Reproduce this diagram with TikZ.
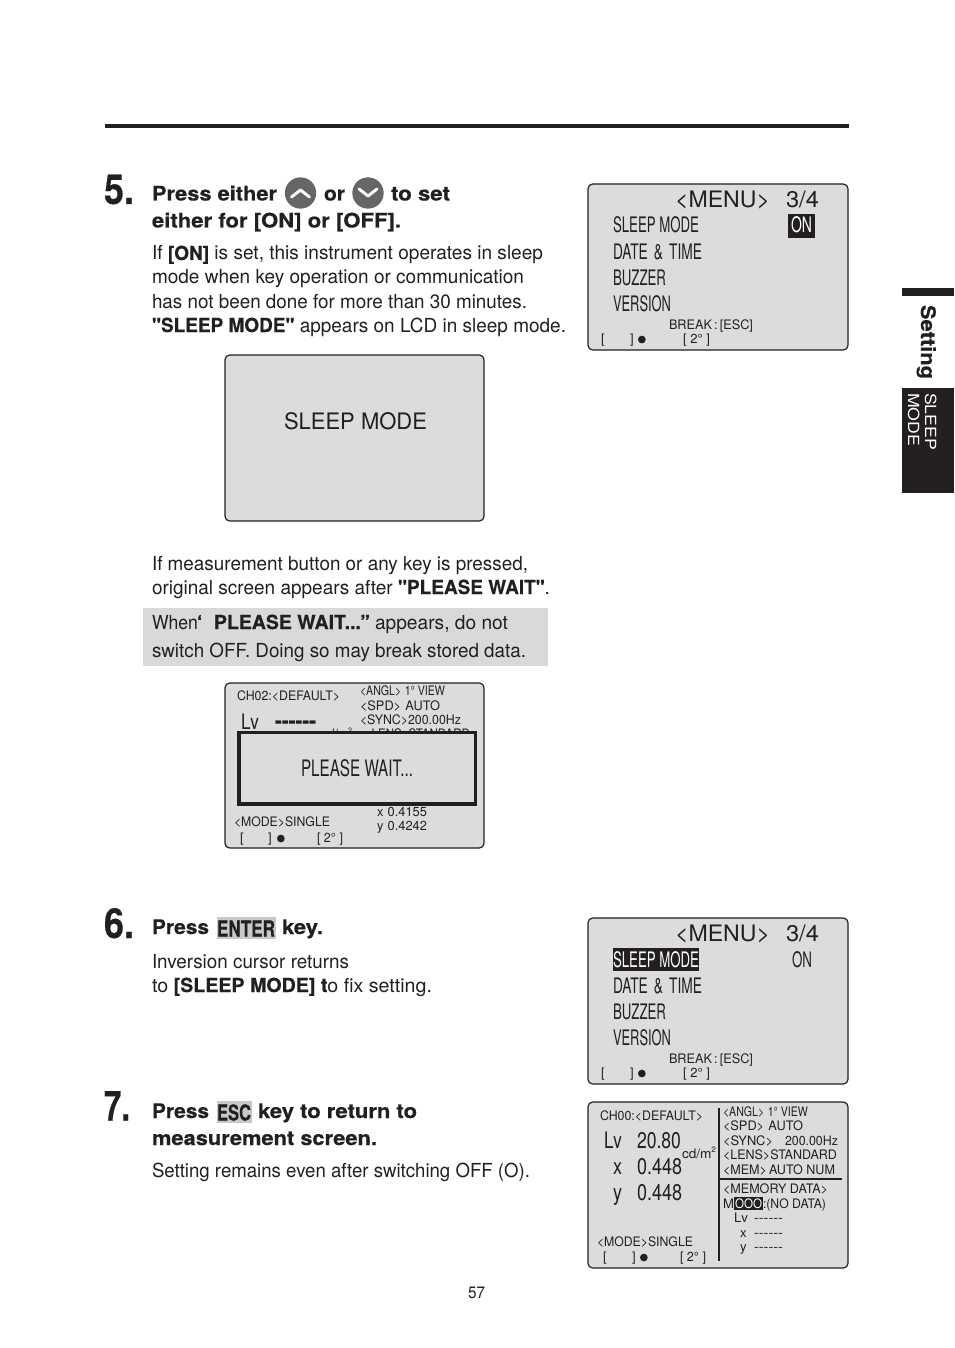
\documentclass[tikz,border=0pt]{standalone}
\usepackage{fontspec}
\usepackage{graphicx}
\setmainfont{TeX Gyre Heros}[Ligatures=TeXOff,BoldFeatures={FakeBold=0.5}]
\definecolor{ink}{HTML}{231F20}
\definecolor{lcd}{HTML}{DCDCDC}
\definecolor{note}{HTML}{D9D9D9}
\definecolor{keyb}{HTML}{C9C9C9}
\definecolor{btn}{HTML}{666666}
\newcommand\fw[2]{\resizebox{\dimexpr #1pt*3/4\relax}{\height}{#2}}
\newcommand\sz[1]{\fontsize{#1pt}{#1pt}\selectfont}
\newcommand\dotm{\tikz[baseline=-2.6pt]\fill[ink] circle (2.9pt);}
\tikzset{
  txt/.style={anchor=base west,inner sep=0pt,outer sep=0pt,text=ink},
  body/.style={txt,font=\sz{14.5}},
  head/.style={txt,font=\sz{15}\bfseries},
  stepnum/.style={txt,font=\sz{31}\bfseries},
  small/.style={txt,font=\sz{9.8}},
  large/.style={txt,font=\sz{17}},
  cond/.style={txt,font=\sz{16}},
  lcdbox/.style={draw=ink,fill=lcd,line width=0.9pt,rounded corners=3.5pt},
  pressbtn/.style={circle,fill=btn,minimum size=23.5pt,inner sep=0pt},
  chev/.style={draw=white,line width=2.2pt,line cap=round,line join=round}
}
\begin{document}
\begin{tikzpicture}[x=0.75pt,y=-0.75pt]
\useasboundingbox (0,0) rectangle (954,1348);
\fill[white] (0,0) rectangle (954,1348);
% top rule and tabs
\fill[ink] (105,124) rectangle (849,128);
\fill[ink] (902,288) rectangle (954,296);
\fill[ink] (902,388) rectangle (954,493);
\node[txt,font=\sz{15}\bfseries,rotate=-90,anchor=base] (tabset) at (921,342) {\fw{74}{Setting}};
\node[txt,font=\sz{11.5},text=white,rotate=-90,anchor=base west] (tabs1) at (925,393) {\fw{57}{SLEEP}};
\node[txt,font=\sz{11.5},text=white,rotate=-90,anchor=base west] (tabs2) at (908,393) {\fw{53}{MODE}};

% step 5
\node[stepnum] (n5) at (104,204) {\fw{30}{5.}};
\node[head] (h51) at (152,200.5) {\fw{125}{Press either}};
\node[pressbtn] (up) at (300.5,193) {};
\draw[chev] (291.5,197) -- (300.5,190) -- (309.5,197);
\node[head] (h52) at (324,200.5) {\fw{21}{or}};
\node[pressbtn] (down) at (368,193) {};
\draw[chev] (359,189) -- (368,196) -- (377,189);
\node[head] (h53) at (391,200.5) {\fw{59}{to set}};
\node[head] (h54) at (152,227.5) {\fw{249}{either for [ON] or [OFF].}};
\node[body] (b1) at (152,260) {\fw{391}{If \textbf{[ON]} is set, this instrument operates in sleep}};
\node[body] (b2) at (152,284) {\fw{372}{mode when key operation or communication}};
\node[body] (b3) at (152,308.5) {\fw{375}{has not been done for more than 30 minutes.}};
\node[body] (b4) at (152,332) {\fw{414}{\textbf{"SLEEP MODE"} appears on LCD in sleep mode.}};

% sleep screen
\draw[lcdbox] (225,355) rectangle (484,521);
\node[large] (sm) at (284,429) {\fw{143}{SLEEP MODE}};

\node[body] (b5) at (152,570) {\fw{376}{If measurement button or any key is pressed,}};
\node[body] (b6) at (152,594) {\fw{398}{original screen appears after \textbf{"PLEASE WAIT"}.}};

% note
\fill[note] (143,608) rectangle (548,666);
\node[body] (w1) at (152,629) {\fw{46}{When}};
\node[body] (w2) at (197,629) {\textbf{‘}};
\node[body] (w3) at (214,629) {\fw{156}{\textbf{PLEASE WAIT...”}}};
\node[body] (w4) at (375,629) {\fw{133}{appears, do not}};
\node[body] (w5) at (152,657) {\fw{374}{switch OFF. Doing so may break stored data.}};

% please wait screen
\draw[lcdbox] (225,683) rectangle (484,848);
\node[small] (p1) at (237,700) {\fw{103}{CH02:<DEFAULT>}};
\node[small] (p2) at (360,695) {\fw{85}{<ANGL>\,\,1\textdegree\ VIEW}};
\node[small] (p3) at (360,710) {\fw{80}{<SPD>\,\,AUTO}};
\node[small] (p4) at (360,724) {\fw{101}{<SYNC>200.00Hz}};
\node[small] (p5) at (322,738.5) {\fw{30}{cd/m\raisebox{4pt}{\scalebox{.6}{2}}}};
\node[small] (p6) at (365,738.5) {\fw{105}{<LENS>STANDARD}};
\node[cond] (p7) at (241,729.5) {\fw{18}{Lv}};
\node[cond] (p8) at (275,728) {\fw{41}{\bfseries ------}};
\draw[draw=ink,fill=lcd,line width=2.6pt] (239,732.5) rectangle (475.5,804);
\node[cond,font=\sz{17}] (p9) at (301,776) {\fw{112}{PLEASE WAIT...}};
\node[small] (p10) at (377,816) {\fw{50}{x\,\,0.4155}};
\node[small] (p11) at (377,830) {\fw{50}{y\,\,0.4242}};
\node[small] (p12) at (234,826) {\fw{96}{<MODE>SINGLE}};
\node[small] (p13) at (240,842) {[};
\node[small] (p14) at (268,842) {]};
\node[small] (p15) at (277,842) {\dotm};
\node[small] (p16) at (317,842) {\fw{26}{[ 2\textdegree\ ]}};

% menu screen 1
\draw[lcdbox] (588,184) rectangle (848,350);
\node[large] (m1) at (675,208) {\fw{95}{<MENU>}};
\node[large] (m2) at (786,208) {\fw{33}{3/4}};
\node[cond] (m3) at (613,233) {\fw{86}{SLEEP MODE}};
\fill[ink] (788,214) rectangle (815,238);
\node[cond,text=white] (m4) at (791,233) {\fw{21}{ON}};
\node[cond] (m5) at (613,259) {\fw{89}{DATE \,\&\, TIME}};
\node[cond] (m6) at (613,285) {\fw{53}{BUZZER}};
\node[cond] (m7) at (613,311) {\fw{58}{VERSION}};
\node[small] (m8) at (669,329) {\fw{84}{BREAK\,:\,[ESC]}};
\node[small] (m9) at (601,343) {[};
\node[small] (m10) at (630,343) {]};
\node[small] (m11) at (638,343) {\dotm};
\node[small] (m12) at (683,343) {\fw{27}{[ 2\textdegree\ ]}};

% step 6
\node[stepnum] (n6) at (104,938) {\fw{30}{6.}};
\node[head] (h61) at (152,934) {\fw{57}{Press}};
\fill[keyb] (217,917) rectangle (276,939);
\node[cond,font=\sz{16.5}\bfseries] (h62) at (217,936.5) {\fw{58}{ENTER}};
\node[head] (h63) at (282,934) {\fw{41}{key.}};
\node[body] (b61) at (152,968) {\fw{197}{Inversion cursor returns}};
\node[body] (b62) at (152,992) {\fw{280}{to \textbf{[SLEEP MODE] t}o fix setting.}};

% menu screen 2
\draw[lcdbox] (588,918) rectangle (848,1084);
\node[large] (q1) at (675,941) {\fw{95}{<MENU>}};
\node[large] (q2) at (786,941) {\fw{33}{3/4}};
\fill[ink] (613,948) rectangle (699,971);
\node[cond,text=white] (q3) at (613,967) {\fw{86}{SLEEP MODE}};
\node[cond] (q4) at (792,967) {\fw{20}{ON}};
\node[cond] (q5) at (613,993) {\fw{89}{DATE \,\&\, TIME}};
\node[cond] (q6) at (613,1019) {\fw{53}{BUZZER}};
\node[cond] (q7) at (613,1045) {\fw{58}{VERSION}};
\node[small] (q8) at (669,1063) {\fw{84}{BREAK\,:\,[ESC]}};
\node[small] (q9) at (601,1077) {[};
\node[small] (q10) at (630,1077) {]};
\node[small] (q11) at (638,1077) {\dotm};
\node[small] (q12) at (683,1077) {\fw{27}{[ 2\textdegree\ ]}};

% step 7
\node[stepnum] (n7) at (104,1120.5) {\fw{26}{7.}};
\node[head] (h71) at (152,1118) {\fw{57}{Press}};
\fill[keyb] (217,1101) rectangle (252,1123);
\node[cond,font=\sz{16.5}\bfseries] (h72) at (217,1120.5) {\fw{34}{ESC}};
\node[head] (h73) at (258,1118) {\fw{159}{key to return to}};
\node[head] (h74) at (152,1145) {\fw{225}{measurement screen.}};
\node[body] (b71) at (152,1177) {\fw{378}{Setting remains even after switching OFF (O).}};

% measurement screen
\draw[lcdbox] (588,1102) rectangle (848,1268);
\draw[ink,line width=1.3pt] (719,1108) -- (719,1261);
\draw[ink,line width=1.3pt] (720,1179) -- (842,1179);
\node[small] (r1) at (600,1120) {\fw{103}{CH00:<DEFAULT>}};
\node[cond,font=\sz{17}] (r2) at (604,1148) {\fw{18}{Lv}};
\node[cond,font=\sz{17}] (r3) at (637,1148) {\fw{44}{20.80}};
\node[cond,font=\sz{17}] (r4) at (613,1174) {\fw{9}{x}};
\node[cond,font=\sz{17}] (r5) at (637,1174) {\fw{45}{0.448}};
\node[cond,font=\sz{17}] (r6) at (613,1200) {\fw{9}{y}};
\node[cond,font=\sz{17}] (r7) at (637,1200) {\fw{45}{0.448}};
\node[small] (r8) at (682,1158) {\fw{34}{cd/m\raisebox{4pt}{\scalebox{.6}{2}}}};
\node[small] (r9) at (723,1116) {\fw{85}{<ANGL>\,\,1\textdegree\ VIEW}};
\node[small] (r10) at (723,1130) {\fw{80}{<SPD>\,\,AUTO}};
\node[small] (r11) at (723,1145) {\fw{50}{<SYNC>}};
\node[small] (r12) at (785,1145) {\fw{53}{200.00Hz}};
\node[small] (r13) at (723,1159) {\fw{114}{<LENS>STANDARD}};
\node[small] (r14) at (723,1174) {\fw{112}{<MEM>\,AUTO NUM}};
\node[small] (r15) at (723,1193) {\fw{105}{<MEMORY DATA>}};
\node[small] (r16) at (723,1208) {M};
\fill[ink] (734,1197) rectangle (763,1210);
\node[small,text=white] (r17) at (735,1208) {\fw{27}{OOO}};
\node[small] (r18) at (763,1208) {\fw{63}{:(NO DATA)}};
\node[small] (r19) at (734,1222) {\fw{14}{Lv}};
\node[small] (r20) at (754,1222) {\fw{29}{------}};
\node[small] (r21) at (740,1237) {x};
\node[small] (r22) at (754,1237) {\fw{29}{------}};
\node[small] (r23) at (740,1251) {y};
\node[small] (r24) at (754,1251) {\fw{29}{------}};
\node[small] (r25) at (597,1246) {\fw{96}{<MODE>SINGLE}};
\node[small] (r26) at (603,1261) {[};
\node[small] (r27) at (632,1261) {]};
\node[small] (r28) at (640,1261) {\dotm};
\node[small] (r29) at (680,1261) {\fw{26}{[ 2\textdegree\ ]}};

% page number
\node[txt,font=\sz{12.4}] (pg) at (468,1298) {\fw{17}{57}};
\end{tikzpicture}
\end{document}
